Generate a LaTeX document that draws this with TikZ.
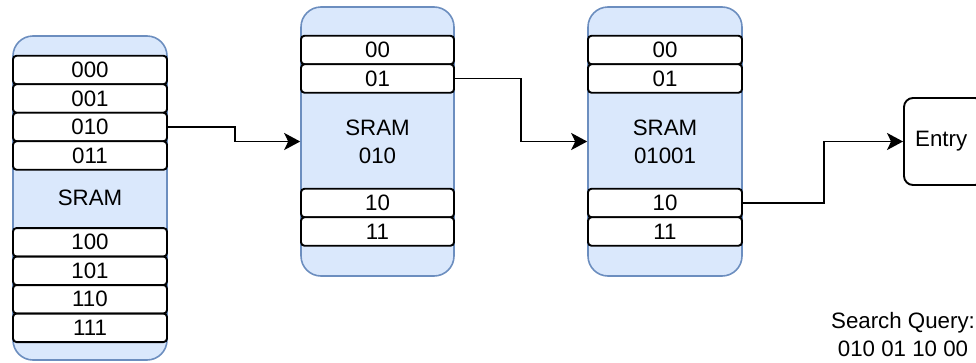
\documentclass[tikz,border=0pt]{standalone}
\usepackage{fontspec}
\setmainfont{Liberation Sans}
\usetikzlibrary{arrows.meta}
\definecolor{sramfill}{HTML}{DAE8FC}
\definecolor{sramdraw}{HTML}{6C8EBF}
\tikzset{
  sram/.style={draw=sramdraw, fill=sramfill, line width=1.6pt, rounded corners=20pt, minimum width=154pt, inner sep=0pt},
  row/.style={draw=black, fill=white, line width=1.9pt, rounded corners=3.5pt, minimum width=154pt, minimum height=28.5pt, inner sep=0pt, font=\fontsize{22.3}{25}\selectfont},
  lbl/.style={font=\fontsize{22.3}{28}\selectfont, align=center, inner sep=0pt},
  conn/.style={draw=black, line width=1.9pt, -{Stealth[length=16pt,width=17pt,inset=4pt]}},
  entrybox/.style={draw=black, fill=white, line width=1.9pt, rounded corners=9pt, minimum width=80pt, minimum height=87pt, inner sep=0pt}
}
\begin{document}
\begin{tikzpicture}[x=1pt,y=-1pt]
\useasboundingbox (0,0) rectangle (976,362);
\clip (0,0) rectangle (976,362);
% Box 1
\node[sram, minimum height=324pt] (b1) at (90,198) {};
\node[row] (b1r000) at (90,70) {000};
\node[row] (b1r001) at (90,98.5) {001};
\node[row] (b1r010) at (90,127) {010};
\node[row] (b1r011) at (90,155.5) {011};
\node[lbl] (b1t) at (90,198) {SRAM};
\node[row] (b1r100) at (90,242.3) {100};
\node[row] (b1r101) at (90,270.8) {101};
\node[row] (b1r110) at (90,299.3) {110};
\node[row] (b1r111) at (90,327.8) {111};
% Box 2
\node[sram, minimum width=153pt, minimum height=269pt] (b2) at (377.5,141.5) {};
\node[row, minimum width=153pt] (b2r00) at (377.5,50) {00};
\node[row, minimum width=153pt] (b2r01) at (377.5,78.5) {01};
\node[lbl] (b2t) at (377.5,141.5) {SRAM\\010};
\node[row, minimum width=153pt] (b2r10) at (377.5,203) {10};
\node[row, minimum width=153pt] (b2r11) at (377.5,231.5) {11};
% Box 3
\node[sram, minimum height=269pt] (b3) at (665,141.5) {};
\node[row] (b3r00) at (665,50) {00};
\node[row] (b3r01) at (665,78.5) {01};
\node[lbl] (b3t) at (665,141.5) {SRAM\\01001};
\node[row] (b3r10) at (665,203) {10};
\node[row] (b3r11) at (665,231.5) {11};
% Entry
\node[entrybox] (entry) at (944,141.5) {};
\node[lbl, anchor=west] (entryt) at (915,141.5) {Entry};
% Search query
\node[lbl, align=center] (query) at (903,334.5) {Search Query:\\010 01 10 00};
% Connectors
\draw[conn] (b1r010.east) -- ++(67,0) |- (b2.west);
\draw[conn] (b2r01.east) -- ++(66,0) |- (b3.west);
\draw[conn] (b3r10.east) -- ++(81,0) |- (entry.west);
\end{tikzpicture}
\end{document}
